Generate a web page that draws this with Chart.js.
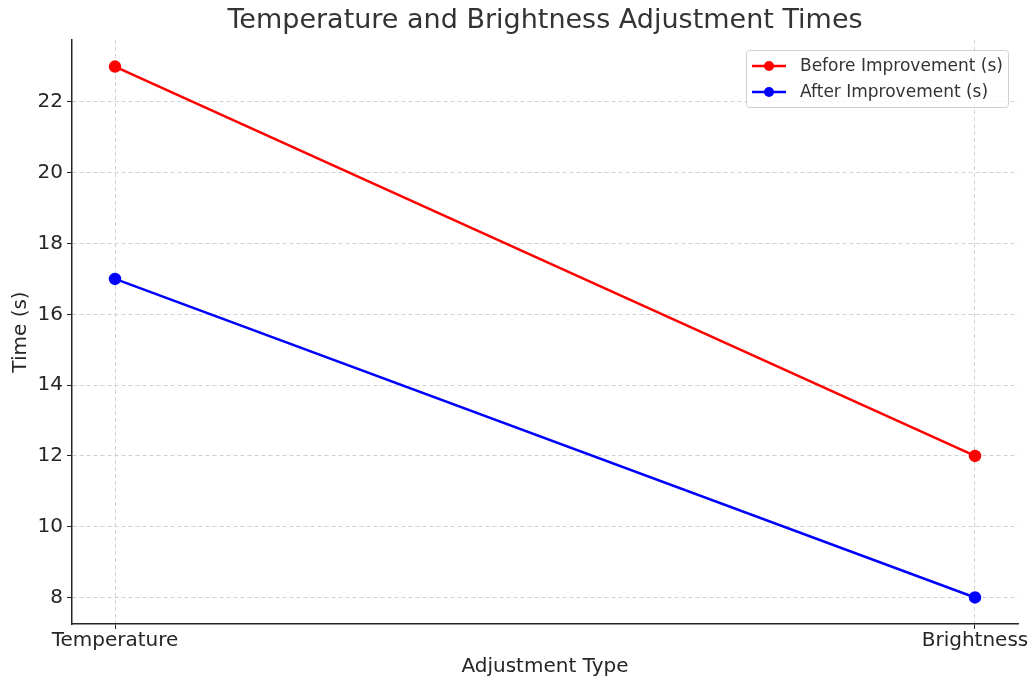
<!DOCTYPE html>
<html><head><meta charset="utf-8">
<script src="https://cdn.jsdelivr.net/npm/chart.js@4/dist/chart.umd.min.js"></script>
<style>html,body{margin:0;padding:0;background:#fff}#wrap{width:1031px;height:681px}</style>
</head><body><div id="wrap"><canvas id="c" width="1031" height="681"></canvas></div>
<script>
const categories = ["Temperature", "Brightness"];
const beforeValues = [23, 12];
const afterValues = [17, 8];
const yTicks = [8, 10, 12, 14, 16, 18, 20, 22];
const seriesNames = ["Before Improvement (s)", "After Improvement (s)"];
const chartTitle = "Temperature and Brightness Adjustment Times";

const FONT = "'DejaVu Sans', sans-serif";
const toPts = arr => arr.map((v, i) => ({x: i, y: v}));

const titlePlugin = {
  id: 'axesTitle',
  afterDraw(chart) {
    const ctx = chart.ctx, ca = chart.chartArea;
    ctx.save();
    ctx.font = '27px ' + FONT;
    ctx.fillStyle = '#333';
    ctx.textAlign = 'center';
    ctx.textBaseline = 'middle';
    ctx.fillText(chartTitle, (ca.left + ca.right) / 2, 21);
    ctx.restore();
  }
};

const legendPlugin = {
  id: 'mplLegend',
  afterDraw(chart) {
    const ctx = chart.ctx, ca = chart.chartArea;
    const w = 262, h = 57;
    const x0 = ca.right - 10 - w, y0 = ca.top + 10;
    ctx.save();
    ctx.fillStyle = 'rgba(255,255,255,0.8)';
    ctx.strokeStyle = '#d0d0d0';
    ctx.lineWidth = 1;
    ctx.beginPath();
    ctx.roundRect(x0 + 0.5, y0 + 0.5, w, h, 3);
    ctx.fill(); ctx.stroke();
    ctx.font = '17px ' + FONT;
    ctx.textBaseline = 'middle';
    chart.data.datasets.forEach((ds, i) => {
      const cy = y0 + 16 + i * 26;
      ctx.strokeStyle = ds.borderColor; ctx.lineWidth = 2.5;
      ctx.beginPath(); ctx.moveTo(x0 + 6, cy); ctx.lineTo(x0 + 40, cy); ctx.stroke();
      ctx.fillStyle = ds.borderColor;
      ctx.beginPath(); ctx.arc(x0 + 23, cy, 5, 0, Math.PI * 2); ctx.fill();
      ctx.fillStyle = '#333';
      ctx.fillText(ds.label, x0 + 54, cy + 1);
    });
    ctx.restore();
  }
};

new Chart(document.getElementById('c'), {
  type: 'line',
  data: {
    datasets: [
      {label: seriesNames[0], data: toPts(beforeValues), borderColor: '#ff0000', backgroundColor: '#ff0000', borderWidth: 2.5, pointRadius: 5, pointHoverRadius: 5, tension: 0},
      {label: seriesNames[1], data: toPts(afterValues), borderColor: '#0000ff', backgroundColor: '#0000ff', borderWidth: 2.5, pointRadius: 5, pointHoverRadius: 5, tension: 0}
    ]
  },
  options: {
    responsive: false,
    animation: false,
    devicePixelRatio: 1,
    layout: {padding: {left: 0, right: 13, top: 40, bottom: 0}},
    plugins: {
      legend: {display: false},
      tooltip: {enabled: false},
      title: {display: false}
    },
    scales: {
      x: {
        type: 'linear', min: -0.05, max: 1.05,
        afterBuildTicks: s => { s.ticks = categories.map((c, i) => ({value: i})); },
        afterFit: s => { s.height = 57; },
        ticks: {callback: v => categories[v], color: '#262626', font: {family: FONT, size: 20}, maxRotation: 0, padding: 0},
        grid: {color: '#cccccc', lineWidth: 0.9, tickColor: '#262626', tickLength: 5, tickWidth: 1},
        border: {display: true, color: '#262626', width: 1.5, dash: [4, 3]},
        title: {display: true, text: 'Adjustment Type', color: '#262626', font: {family: FONT, size: 20}, padding: {top: 0, bottom: 2}}
      },
      y: {
        min: 7.25, max: 23.75,
        afterBuildTicks: s => { s.ticks = yTicks.map(v => ({value: v})); },
        afterFit: s => { s.width = 72; },
        ticks: {color: '#262626', font: {family: FONT, size: 20}, padding: 4},
        grid: {color: '#cccccc', lineWidth: 0.9, tickColor: '#262626', tickLength: 5, tickWidth: 1},
        border: {display: true, color: '#262626', width: 1.5, dash: [4, 3]},
        title: {display: true, text: 'Time (s)', color: '#262626', font: {family: FONT, size: 20}, padding: {top: 9, bottom: 0}}
      }
    }
  },
  plugins: [titlePlugin, legendPlugin]
});
</script></body></html>
